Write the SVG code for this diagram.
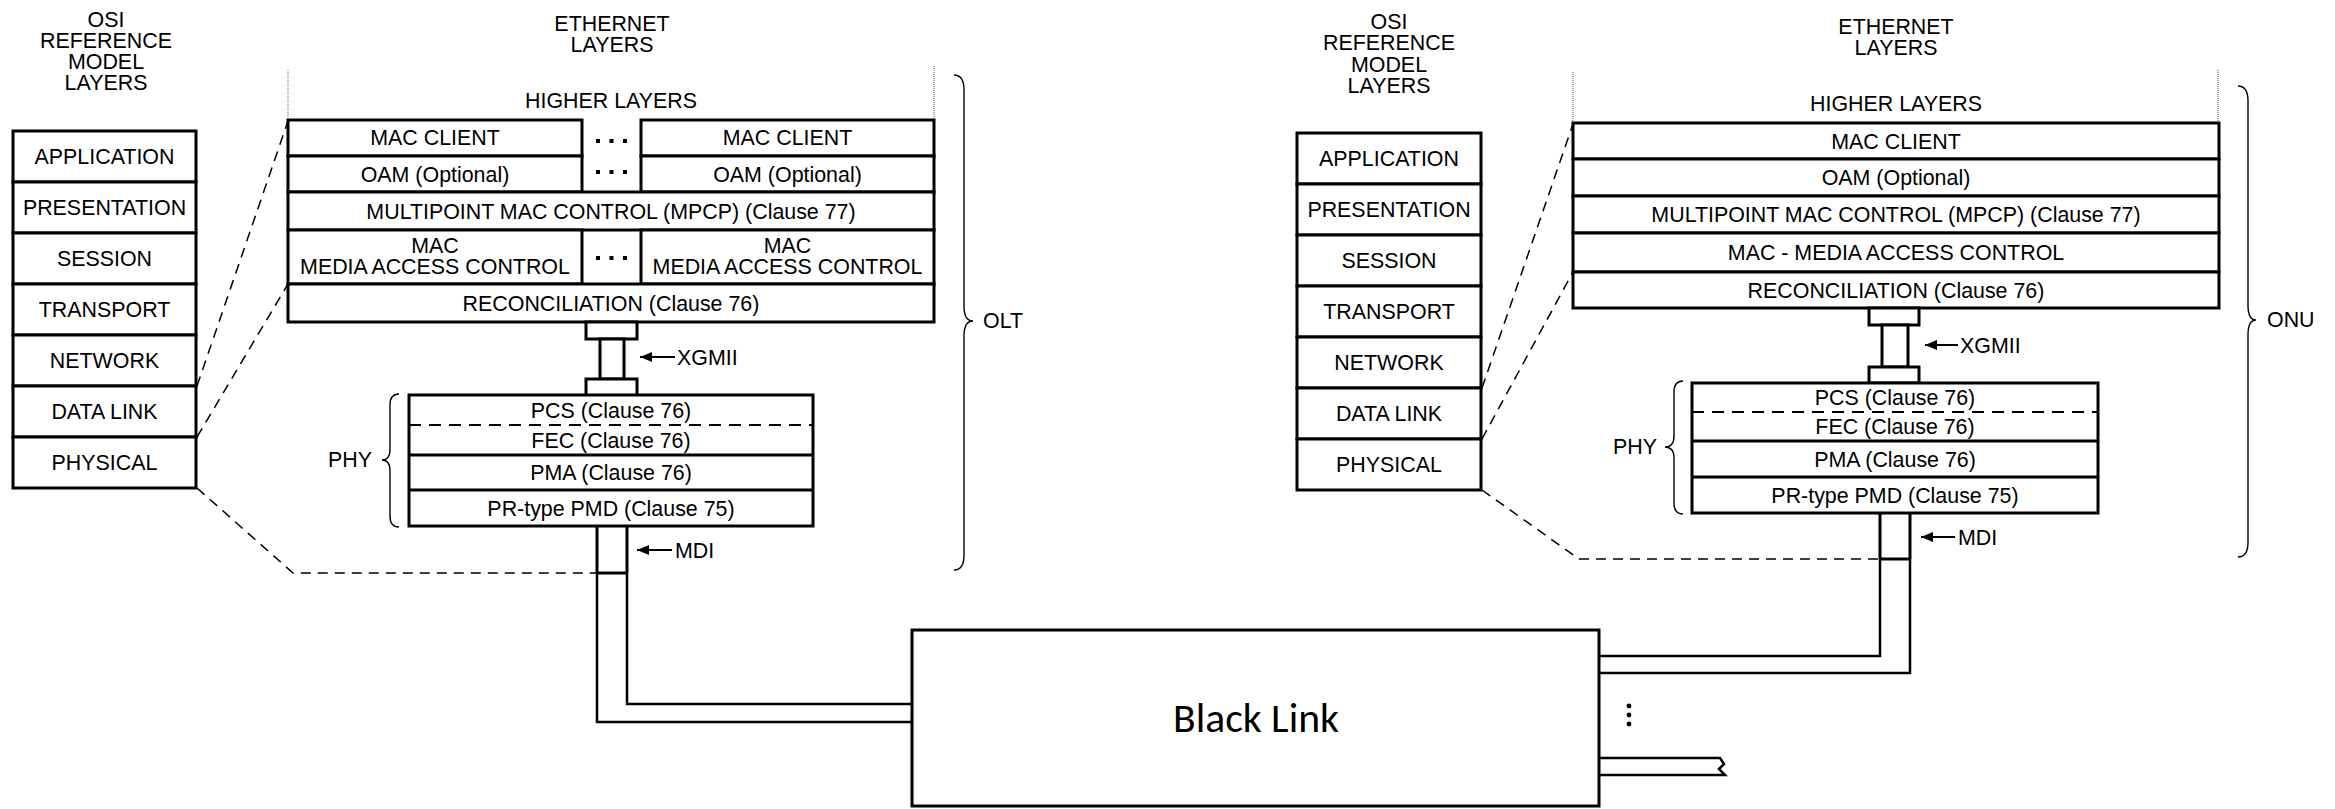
<svg xmlns="http://www.w3.org/2000/svg" width="2335" height="809" viewBox="0 0 2335 809">
<style>
  .bx { fill: #fff; stroke: #000; stroke-width: 3; }
  .ln { fill: none; stroke: #000; stroke-width: 3; }
  .ln2 { fill: none; stroke: #000; stroke-width: 2.5; }
  .t { font-family: "Liberation Sans", Arial, sans-serif; font-size: 21.4px; fill: #000; text-anchor: middle; }
  .tl { font-family: "Liberation Sans", Arial, sans-serif; font-size: 21.4px; fill: #000; text-anchor: start; }
  .tr { font-family: "Liberation Sans", Arial, sans-serif; font-size: 21.4px; fill: #000; text-anchor: end; }
  .dash { fill: none; stroke: #000; stroke-width: 1.5; stroke-dasharray: 10 7; }
  .idash { fill: none; stroke: #000; stroke-width: 2; stroke-dasharray: 12 8; }
  .dot { fill: none; stroke: #777; stroke-width: 1.2; stroke-dasharray: 1 1; }
  .brace { fill: none; stroke: #000; stroke-width: 1.4; }
  .arr { fill: none; stroke: #000; stroke-width: 2; }
  .sq { fill: #000; }
</style>
<defs>
  <marker id="ah" viewBox="0 0 12 10" refX="12" refY="5" markerWidth="12" markerHeight="10" markerUnits="userSpaceOnUse" orient="auto">
    <path d="M0,0 L12,5 L0,10 z" fill="#000"/>
  </marker>
</defs>

<!-- ===== LEFT (OLT) ===== -->
<g id="osi-title-left">
  <text class="t" x="106" y="27">OSI</text>
  <text class="t" x="106" y="48">REFERENCE</text>
  <text class="t" x="106" y="69">MODEL</text>
  <text class="t" x="106" y="90">LAYERS</text>
</g>
<g id="osi-left">
  <rect class="bx" x="13" y="131" width="183" height="51"/><text class="t" x="104.5" y="164">APPLICATION</text>
  <rect class="bx" x="13" y="182" width="183" height="51"/><text class="t" x="104.5" y="215">PRESENTATION</text>
  <rect class="bx" x="13" y="233" width="183" height="51"/><text class="t" x="104.5" y="266">SESSION</text>
  <rect class="bx" x="13" y="284" width="183" height="51"/><text class="t" x="104.5" y="317">TRANSPORT</text>
  <rect class="bx" x="13" y="335" width="183" height="51"/><text class="t" x="104.5" y="368">NETWORK</text>
  <rect class="bx" x="13" y="386" width="183" height="51"/><text class="t" x="104.5" y="419">DATA LINK</text>
  <rect class="bx" x="13" y="437" width="183" height="51"/><text class="t" x="104.5" y="470">PHYSICAL</text>
</g>
<g id="eth-title-left">
  <text class="t" x="612" y="31">ETHERNET</text>
  <text class="t" x="612" y="52">LAYERS</text>
  <text class="t" x="611" y="108">HIGHER LAYERS</text>
</g>
<g id="olt-stack">
  <g id="olt-mac-client">
    <rect class="bx" x="288" y="120" width="294" height="36"/><text class="t" x="435" y="145">MAC CLIENT</text>
    <rect class="bx" x="641" y="120" width="293" height="36"/><text class="t" x="787.5" y="145">MAC CLIENT</text>
    <rect class="sq" x="596" y="139" width="4" height="4"/><rect class="sq" x="609.5" y="139" width="4" height="4"/><rect class="sq" x="623" y="139" width="4" height="4"/>
  </g>
  <g id="olt-oam">
    <rect class="bx" x="288" y="156" width="294" height="36"/><text class="t" x="435" y="181.5">OAM (Optional)</text>
    <rect class="bx" x="641" y="156" width="293" height="36"/><text class="t" x="787.5" y="181.5">OAM (Optional)</text>
    <rect class="sq" x="596" y="170" width="4" height="4"/><rect class="sq" x="609.5" y="170" width="4" height="4"/><rect class="sq" x="623" y="170" width="4" height="4"/>
  </g>
  <g id="olt-mpcp">
    <rect class="bx" x="288" y="192" width="646" height="38"/><text class="t" x="611" y="218.5">MULTIPOINT MAC CONTROL (MPCP) (Clause 77)</text>
  </g>
  <g id="olt-mac">
    <rect class="bx" x="288" y="230" width="294" height="54"/>
    <text class="t" x="435" y="253">MAC</text><text class="t" x="435" y="274">MEDIA ACCESS CONTROL</text>
    <rect class="bx" x="641" y="230" width="293" height="54"/>
    <text class="t" x="787.5" y="253">MAC</text><text class="t" x="787.5" y="274">MEDIA ACCESS CONTROL</text>
    <rect class="sq" x="596" y="256" width="4" height="4"/><rect class="sq" x="609.5" y="256" width="4" height="4"/><rect class="sq" x="623" y="256" width="4" height="4"/>
  </g>
  <g id="olt-reconciliation">
    <rect class="bx" x="288" y="284" width="646" height="38"/><text class="t" x="611" y="310.5">RECONCILIATION (Clause 76)</text>
  </g>
</g>
<g id="olt-xgmii">
  <rect class="bx" x="586" y="322" width="51" height="17"/>
  <rect class="bx" x="600" y="339" width="24" height="40"/>
  <rect class="bx" x="586" y="379" width="51" height="17"/>
  <path class="arr" d="M675,357 L640,357" marker-end="url(#ah)"/>
  <text class="tl" x="677" y="364.5">XGMII</text>
</g>
<g id="olt-phy">
  <rect class="bx" x="409" y="395" width="404" height="131"/>
  <line class="idash" x1="409" y1="425" x2="813" y2="425"/>
  <line class="ln" x1="409" y1="455" x2="813" y2="455"/>
  <line class="ln" x1="409" y1="490" x2="813" y2="490"/>
  <text class="t" x="611" y="417.5">PCS (Clause 76)</text>
  <text class="t" x="611" y="447.5">FEC (Clause 76)</text>
  <text class="t" x="611" y="480">PMA (Clause 76)</text>
  <text class="t" x="611" y="515.5">PR-type PMD (Clause 75)</text>
  <path class="brace" d="M399,394 Q390,394 390,405 L390,449 Q390,460 382,460 Q390,460 390,471 L390,516 Q390,527 399,527"/>
  <text class="tr" x="372" y="467">PHY</text>
</g>
<g id="olt-brace">
  <path class="brace" d="M954,75 Q964,75 964,90 L964,306 Q964,321 973,321 Q964,321 964,336 L964,555 Q964,570 954,570"/>
  <text class="tl" x="983" y="328">OLT</text>
</g>

<!-- ===== RIGHT (ONU) ===== -->
<g id="osi-title-right">
  <text class="t" x="1389" y="29">OSI</text>
  <text class="t" x="1389" y="50">REFERENCE</text>
  <text class="t" x="1389" y="72">MODEL</text>
  <text class="t" x="1389" y="93">LAYERS</text>
</g>
<g id="osi-right">
  <rect class="bx" x="1297" y="133" width="184" height="51"/><text class="t" x="1389" y="166">APPLICATION</text>
  <rect class="bx" x="1297" y="184" width="184" height="51"/><text class="t" x="1389" y="217">PRESENTATION</text>
  <rect class="bx" x="1297" y="235" width="184" height="51"/><text class="t" x="1389" y="268">SESSION</text>
  <rect class="bx" x="1297" y="286" width="184" height="51"/><text class="t" x="1389" y="319">TRANSPORT</text>
  <rect class="bx" x="1297" y="337" width="184" height="51"/><text class="t" x="1389" y="370">NETWORK</text>
  <rect class="bx" x="1297" y="388" width="184" height="51"/><text class="t" x="1389" y="421">DATA LINK</text>
  <rect class="bx" x="1297" y="439" width="184" height="51"/><text class="t" x="1389" y="472">PHYSICAL</text>
</g>
<g id="eth-title-right">
  <text class="t" x="1896" y="34">ETHERNET</text>
  <text class="t" x="1896" y="55">LAYERS</text>
  <text class="t" x="1896" y="111">HIGHER LAYERS</text>
</g>
<g id="onu-stack">
  <g id="onu-mac-client"><rect class="bx" x="1573" y="123" width="646" height="36"/><text class="t" x="1896" y="148.5">MAC CLIENT</text></g>
  <g id="onu-oam"><rect class="bx" x="1573" y="159" width="646" height="37"/><text class="t" x="1896" y="185">OAM (Optional)</text></g>
  <g id="onu-mpcp"><rect class="bx" x="1573" y="196" width="646" height="37"/><text class="t" x="1896" y="222">MULTIPOINT MAC CONTROL (MPCP) (Clause 77)</text></g>
  <g id="onu-mac"><rect class="bx" x="1573" y="233" width="646" height="39"/><text class="t" x="1896" y="260">MAC - MEDIA ACCESS CONTROL</text></g>
  <g id="onu-reconciliation"><rect class="bx" x="1573" y="272" width="646" height="36"/><text class="t" x="1896" y="297.5">RECONCILIATION (Clause 76)</text></g>
</g>
<g id="onu-xgmii">
  <rect class="bx" x="1869" y="308" width="50" height="17"/>
  <rect class="bx" x="1882" y="325" width="26" height="42"/>
  <rect class="bx" x="1869" y="367" width="50" height="16"/>
  <path class="arr" d="M1958,345 L1925,345" marker-end="url(#ah)"/>
  <text class="tl" x="1960" y="352.5">XGMII</text>
</g>
<g id="onu-phy">
  <rect class="bx" x="1692" y="383" width="406" height="130"/>
  <line class="idash" x1="1692" y1="412" x2="2098" y2="412"/>
  <line class="ln" x1="1692" y1="441" x2="2098" y2="441"/>
  <line class="ln" x1="1692" y1="477" x2="2098" y2="477"/>
  <text class="t" x="1895" y="405">PCS (Clause 76)</text>
  <text class="t" x="1895" y="434">FEC (Clause 76)</text>
  <text class="t" x="1895" y="466.5">PMA (Clause 76)</text>
  <text class="t" x="1895" y="502.5">PR-type PMD (Clause 75)</text>
  <path class="brace" d="M1683,381 Q1674,381 1674,392 L1674,436 Q1674,447 1665,447 Q1674,447 1674,458 L1674,503 Q1674,514 1683,514"/>
  <text class="tr" x="1657" y="454">PHY</text>
</g>
<g id="onu-brace">
  <path class="brace" d="M2238,86 Q2248,86 2248,101 L2248,305 Q2248,320 2256,320 Q2248,320 2248,335 L2248,542 Q2248,557 2238,557"/>
  <text class="tl" x="2267" y="327">ONU</text>
</g>

<!-- ===== BLACK LINK ===== -->
<g id="black-link">
  <rect class="bx" x="912" y="630" width="687" height="176"/>
  <text x="1256" y="732" font-family="Carlito, Lato, 'Open Sans', sans-serif" font-size="40" text-anchor="middle" textLength="166" lengthAdjust="spacingAndGlyphs">Black Link</text>
</g>
<g id="more-onus">
  <circle cx="1629" cy="706" r="2.4"/>
  <circle cx="1629" cy="715" r="2.4"/>
  <circle cx="1629" cy="724" r="2.4"/>
</g>

<!-- ===== CONNECTORS ===== -->
<g id="connectors">
  <!-- dotted upper extents -->
  <line class="dot" x1="288" y1="70" x2="288" y2="119"/>
  <line class="dot" x1="934" y1="66" x2="934" y2="119"/>
  <line class="dot" x1="1573" y1="72" x2="1573" y2="122"/>
  <line class="dot" x1="2218" y1="70" x2="2218" y2="122"/>
  <!-- OSI mapping dashed lines, left -->
  <line class="dash" x1="197" y1="386" x2="288" y2="121"/>
  <line class="dash" x1="197" y1="437" x2="288" y2="284"/>
  <polyline class="dash" points="197,488 293,573 597,573"/>
  <!-- OSI mapping dashed lines, right -->
  <line class="dash" x1="1482" y1="388" x2="1573" y2="124"/>
  <line class="dash" x1="1482" y1="439" x2="1573" y2="272"/>
  <polyline class="dash" points="1482,490 1579,559 1880,559"/>
  <!-- OLT MDI -->
  <g id="olt-mdi">
    <line class="ln" x1="597" y1="526" x2="597" y2="573"/>
    <line class="ln" x1="627" y1="526" x2="627" y2="573"/>
    <line class="ln" x1="596" y1="573" x2="628" y2="573"/>
    <path class="arr" d="M672,550 L637,550" marker-end="url(#ah)"/>
    <text class="tl" x="675" y="557.5">MDI</text>
    <polyline class="ln2" points="597,573 597,722 912,722"/>
    <polyline class="ln2" points="627,573 627,704 912,704"/>
  </g>
  <!-- ONU MDI -->
  <g id="onu-mdi">
    <line class="ln" x1="1880" y1="513" x2="1880" y2="559"/>
    <line class="ln" x1="1910" y1="513" x2="1910" y2="559"/>
    <line class="ln" x1="1879" y1="559" x2="1911" y2="559"/>
    <path class="arr" d="M1955,537 L1921,537" marker-end="url(#ah)"/>
    <text class="tl" x="1958" y="544.5">MDI</text>
    <polyline class="ln2" points="1880,559 1880,656 1599,656"/>
    <polyline class="ln2" points="1910,559 1910,673 1599,673"/>
  </g>
  <!-- broken fibre to further ONUs -->
  <path class="ln2" d="M1599,758 L1720,758 L1724,764 L1719,769 L1725,775 L1599,775"/>
</g>
</svg>
